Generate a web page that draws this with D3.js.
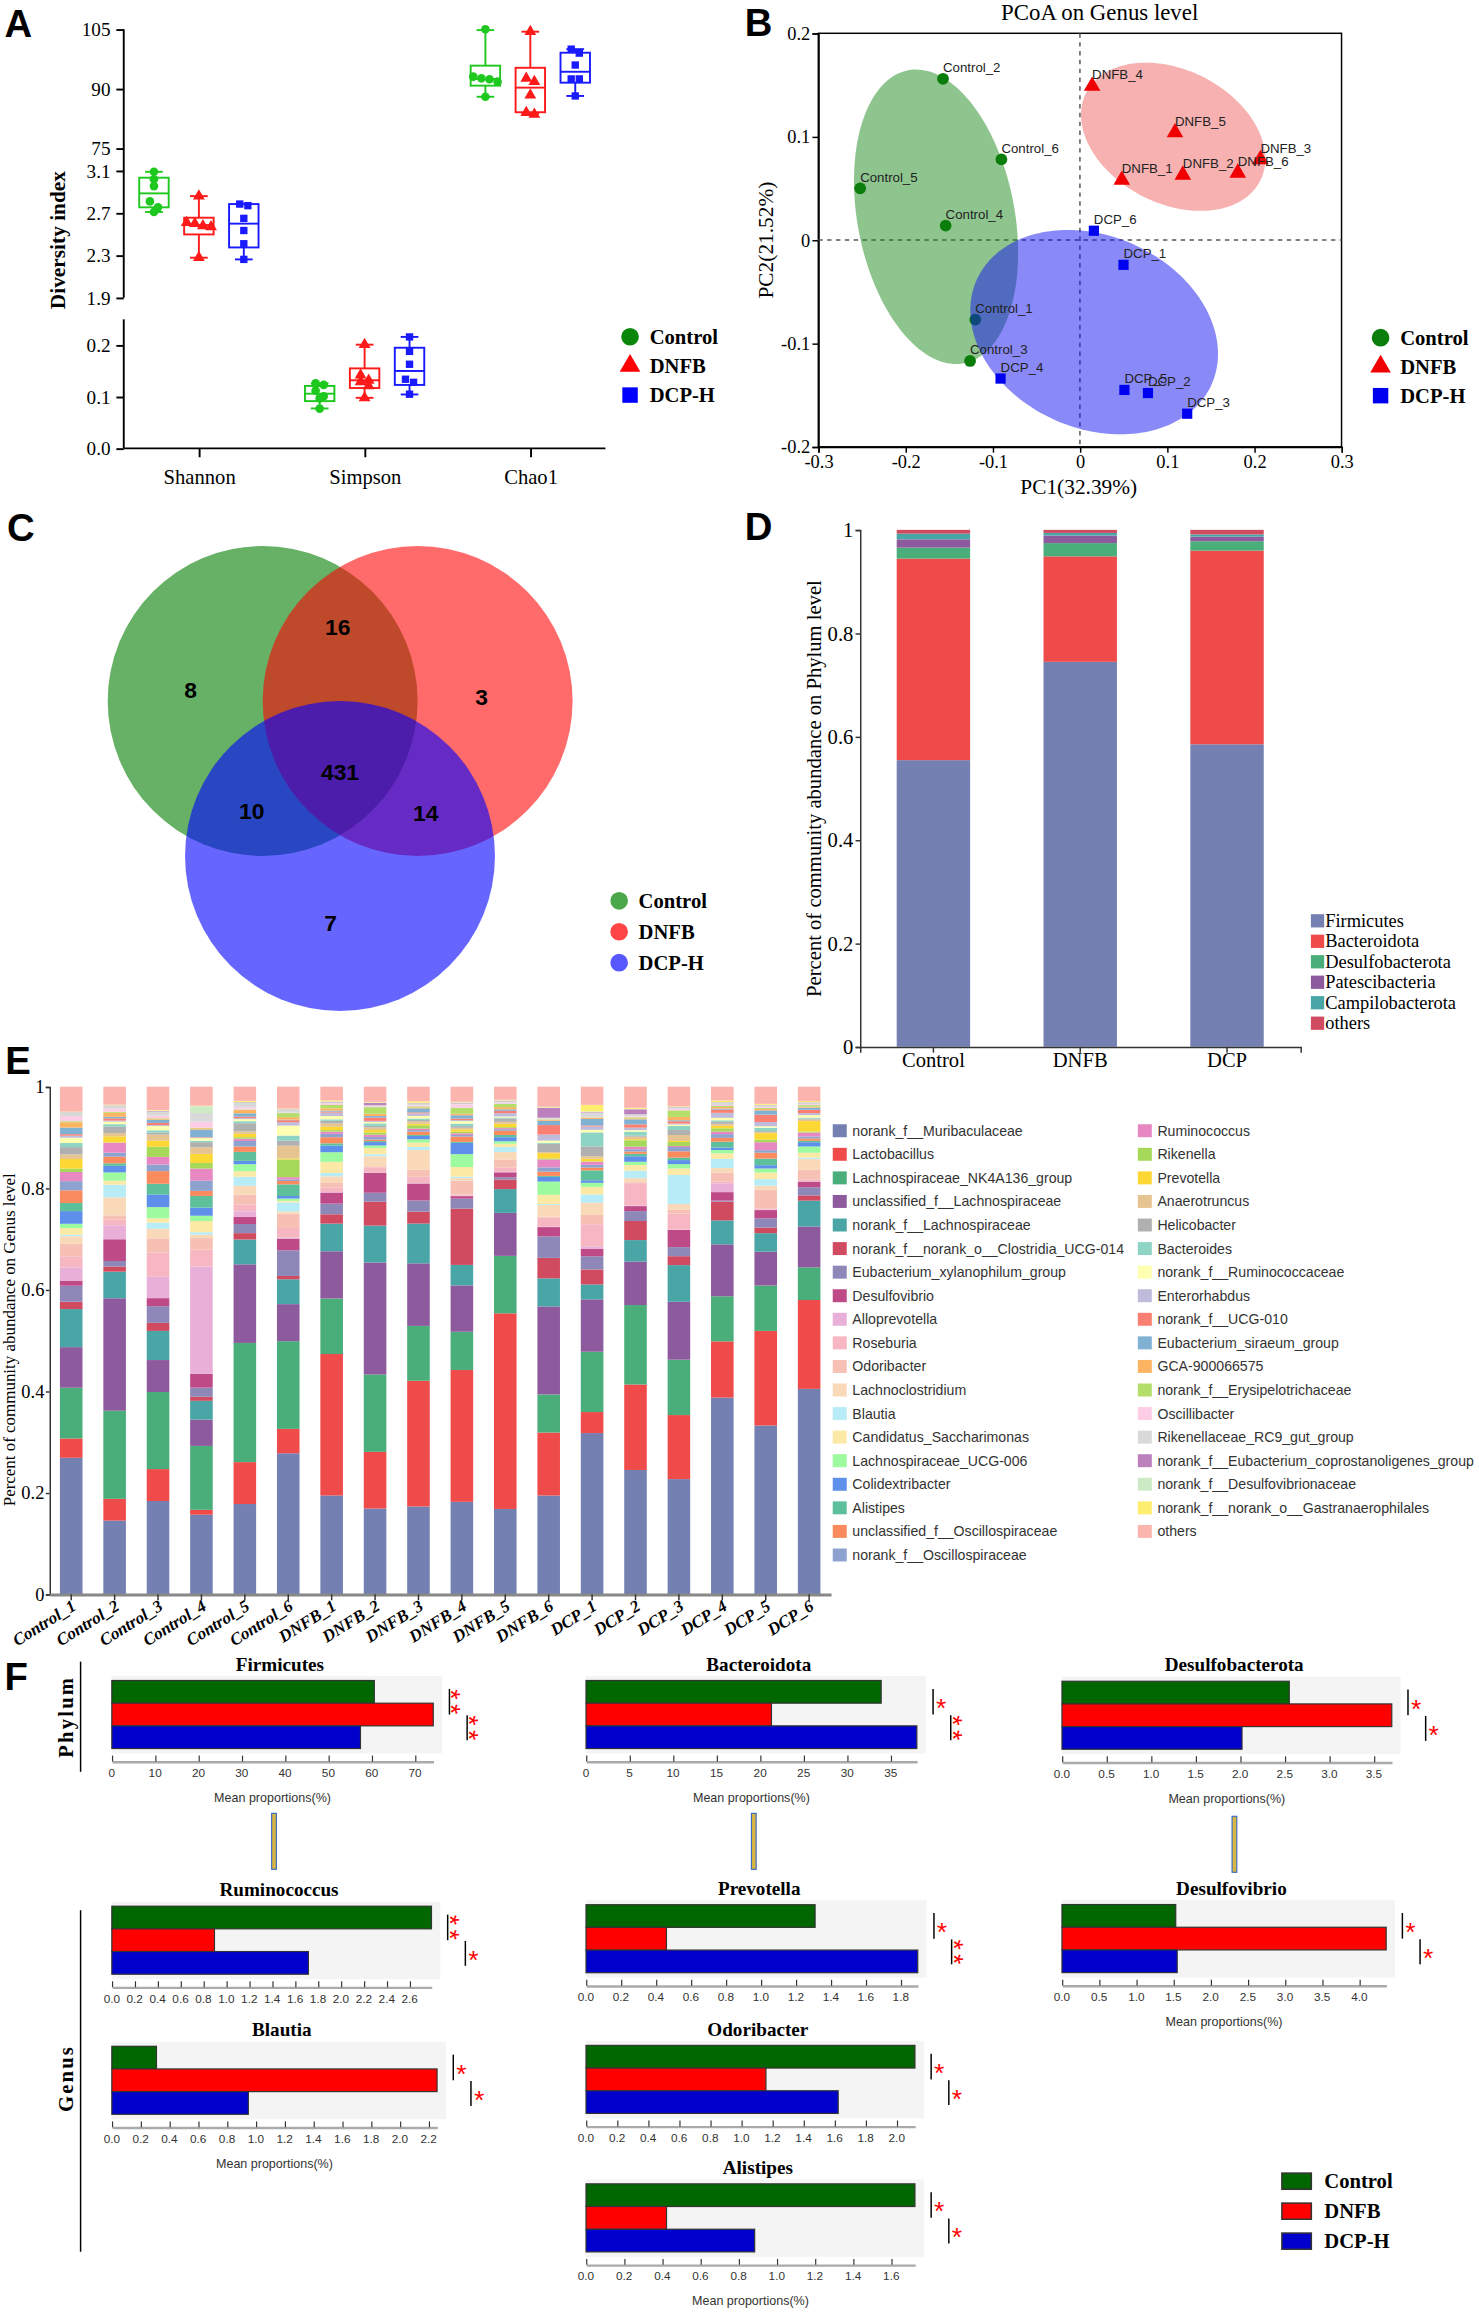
<!DOCTYPE html>
<html>
<head>
<meta charset="utf-8">
<script src="https://cdn.jsdelivr.net/npm/d3@7/dist/d3.min.js"></script>
<style>
  body { margin: 0; background: #fff; }
</style>
</head>
<body>
<div id="fig"></div>
<script>
// ---------------- data ----------------
const groups = ["Control", "DNFB", "DCP-H"];

// A: alpha diversity, [min, q1, median, q3, max] per group
const alphaMetrics = ["Shannon", "Simpson", "Chao1"];
const shannonBox = [[2.71, 2.754, 2.886, 3.034, 3.09], [2.278, 2.498, 2.587, 2.656, 2.86], [2.262, 2.375, 2.60, 2.785, 2.785]];
const shannonPts = [[3.09, 3.02, 2.955, 2.81, 2.754, 2.71], [2.86, 2.61, 2.60, 2.58, 2.57, 2.28], [2.785, 2.77, 2.65, 2.535, 2.41, 2.262]];
const simpsonBox = [[0.0774, 0.0916, 0.106, 0.121, 0.126], [0.098, 0.117, 0.132, 0.155, 0.201], [0.1045, 0.123, 0.150, 0.195, 0.216]];
const simpsonPts = [[0.126, 0.123, 0.112, 0.101, 0.097, 0.077], [0.201, 0.142, 0.132, 0.129, 0.121, 0.098], [0.216, 0.188, 0.163, 0.134, 0.128, 0.105]];
const chaoBox = [[88.0, 90.8, 92.48, 95.84, 104.8], [83.8, 84.1, 90.3, 95.3, 104.4], [88.2, 91.55, 94.3, 99.1, 100.0]];
const chaoPts = [[105, 93.07, 92.65, 92.4, 91.8, 88.0], [104.4, 92.65, 91.8, 88.4, 84.0, 83.6], [100, 99.0, 96.0, 92.5, 92.5, 88.2]];

// B: PCoA coordinates (PC1, PC2), samples _1.._6
const pcoaControl = [[-0.120, -0.077], [-0.157, 0.156], [-0.126, -0.117], [-0.154, 0.014], [-0.252, 0.050], [-0.090, 0.078]];
const pcoaDNFB = [[0.048, 0.058], [0.118, 0.063], [0.207, 0.078], [0.014, 0.149], [0.109, 0.104], [0.181, 0.065]];
const pcoaDCP = [[0.050, -0.024], [0.078, -0.148], [0.123, -0.168], [-0.091, -0.134], [0.051, -0.145], [0.016, 0.009]];
const pcoaPrefix = ["Control", "DNFB", "DCP"];
// ellipses: centre (x, y) and two conjugate semi-axis vectors (ux, uy, vx, vy), data units
const ellipseControl = [-0.165, 0.0225, 0.0320, -0.1417, -0.0885, -0.0144];
const ellipseDNFB = [0.1069, 0.0999, 0.1001, -0.0421, -0.0339, -0.0580];
const ellipseDCP = [0.0163, -0.0891, 0.1351, -0.0498, -0.0438, -0.0854];

// C: Venn counts
const vennLabels = ["Control only", "Control&DNFB", "DNFB only", "all", "Control&DCP", "DNFB&DCP", "DCP only"];
const vennCounts = [8, 16, 3, 431, 10, 14, 7];

// D: phylum composition
const phylumNames = ["Firmicutes", "Bacteroidota", "Desulfobacterota", "Patescibacteria", "Campilobacterota", "others"];
const phylumGroups = ["Control", "DNFB", "DCP"];
const phylumControl = [0.5545, 0.3899, 0.0212, 0.0161, 0.0110, 0.0073];
const phylumDNFB = [0.7447, 0.2041, 0.0256, 0.0146, 0.0051, 0.0059];
const phylumDCP = [0.5852, 0.3746, 0.0182, 0.0088, 0.0044, 0.0088];

// E: genus composition per sample
const genusNames = ["norank_f__Muribaculaceae", "Lactobacillus", "Lachnospiraceae_NK4A136_group", "unclassified_f__Lachnospiraceae",
  "norank_f__Lachnospiraceae", "norank_f__norank_o__Clostridia_UCG-014", "Eubacterium_xylanophilum_group", "Desulfovibrio",
  "Alloprevotella", "Roseburia", "Odoribacter", "Lachnoclostridium", "Blautia", "Candidatus_Saccharimonas",
  "Lachnospiraceae_UCG-006", "Colidextribacter", "Alistipes", "unclassified_f__Oscillospiraceae", "norank_f__Oscillospiraceae",
  "Ruminococcus", "Rikenella", "Prevotella", "Anaerotruncus", "Helicobacter", "Bacteroides", "norank_f__Ruminococcaceae",
  "Enterorhabdus", "norank_f__UCG-010", "Eubacterium_siraeum_group", "GCA-900066575", "norank_f__Erysipelotrichaceae",
  "Oscillibacter", "Rikenellaceae_RC9_gut_group", "norank_f__Eubacterium_coprostanoligenes_group",
  "norank_f__Desulfovibrionaceae", "norank_f__norank_o__Gastranaerophilales", "others"];
const samples = ["Control_1", "Control_2", "Control_3", "Control_4", "Control_5", "Control_6",
  "DNFB_1", "DNFB_2", "DNFB_3", "DNFB_4", "DNFB_5", "DNFB_6",
  "DCP_1", "DCP_2", "DCP_3", "DCP_4", "DCP_5", "DCP_6"];
const control1 = [0.269, 0.038, 0.100, 0.080, 0.075, 0.0145, 0.0315, 0.010, 0.026, 0.022, 0.025, 0.0145, 0.003, 0.013, 0.0085, 0.025, 0.016, 0.025, 0.018, 0.018, 0.0066, 0.019, 0.009, 0.0145, 0.008, 0.0105, 0.004, 0.003, 0.013, 0.0105, 0.002, 0.010, 0.006, 0.001, 0.001, 0.001, 0.049];
const control2 = [0.1455, 0.043, 0.174, 0.222, 0.0525, 0.010, 0.011, 0.043, 0.0276, 0.011, 0.0085, 0.0355, 0.025, 0.008, 0.0164, 0.013, 0.005, 0.013, 0.008, 0.0197, 0.0005, 0.012, 0.0065, 0.0125, 0.005, 0.005, 0.002, 0.0045, 0.003, 0.008, 0.002, 0.006, 0.005, 0.001, 0.001, 0.001, 0.0355];
const control3 = [0.184, 0.063, 0.152, 0.063, 0.0575, 0.0158, 0.033, 0.0158, 0.042, 0.048, 0.028, 0.019, 0.012, 0.0085, 0.022, 0.025, 0.021, 0.025, 0.013, 0.015, 0.020, 0.012, 0.012, 0.004, 0.0045, 0.0085, 0.002, 0.004, 0.0065, 0.002, 0.001, 0.005, 0.008, 0.001, 0.001, 0.001, 0.046];
const control4 = [0.157, 0.0097, 0.126, 0.052, 0.037, 0.008, 0.018, 0.027, 0.212, 0.033, 0.023, 0.0066, 0.005, 0.022, 0.0105, 0.016, 0.023, 0.010, 0.020, 0.024, 0.011, 0.018, 0.013, 0.010, 0.003, 0.005, 0.001, 0.001, 0.015, 0.0025, 0.001, 0.012, 0.015, 0.001, 0.0145, 0.001, 0.0375];
const control5 = [0.178, 0.0826, 0.235, 0.155, 0.049, 0.0125, 0.018, 0.0145, 0.0105, 0.013, 0.0197, 0.0177, 0.0177, 0.011, 0.0138, 0.0066, 0.0177, 0.0105, 0.011, 0.0045, 0.003, 0.0065, 0.005, 0.016, 0.004, 0.004, 0.002, 0.003, 0.0065, 0.0065, 0.001, 0.0045, 0.0085, 0.001, 0.001, 0.002, 0.028];
const control6 = [0.278, 0.048, 0.1728, 0.073, 0.049, 0.0066, 0.0505, 0.023, 0.002, 0.019, 0.028, 0.0045, 0.018, 0.003, 0.0045, 0.005, 0.023, 0.0066, 0.003, 0.0045, 0.035, 0.002, 0.025, 0.010, 0.010, 0.0197, 0.0066, 0.004, 0.001, 0.005, 0.008, 0.001, 0.005, 0.001, 0.001, 0.001, 0.043];
const dnfb1 = [0.1947, 0.2788, 0.1094, 0.093, 0.0545, 0.0184, 0.021, 0.0217, 0.001, 0.009, 0.009, 0.013, 0.0066, 0.022, 0.019, 0.013, 0.0045, 0.012, 0.0066, 0.0045, 0.003, 0.0066, 0.0066, 0.005, 0.003, 0.0066, 0.0066, 0.002, 0.002, 0.0045, 0.0066, 0.003, 0.002, 0.001, 0.001, 0.002, 0.027];
const dnfb2 = [0.1697, 0.1121, 0.153, 0.2216, 0.073, 0.0473, 0.0177, 0.0394, 0.001, 0.010, 0.002, 0.0197, 0.004, 0.0125, 0.005, 0.0066, 0.002, 0.003, 0.005, 0.0045, 0.0045, 0.005, 0.005, 0.003, 0.005, 0.003, 0.002, 0.0066, 0.003, 0.0045, 0.013, 0.002, 0.002, 0.0045, 0.001, 0.001, 0.030];
const dnfb3 = [0.1742, 0.2493, 0.1088, 0.1241, 0.0788, 0.0236, 0.0223, 0.0335, 0.001, 0.0125, 0.0138, 0.0394, 0.006, 0.0085, 0.0066, 0.0066, 0.002, 0.0066, 0.003, 0.003, 0.0066, 0.003, 0.0045, 0.003, 0.003, 0.005, 0.005, 0.002, 0.008, 0.002, 0.002, 0.002, 0.003, 0.001, 0.001, 0.003, 0.029];
const dnfb4 = [0.1833, 0.2614, 0.0758, 0.0919, 0.0406, 0.1117, 0.0197, 0.005, 0.001, 0.002, 0.0276, 0.005, 0.003, 0.019, 0.0256, 0.0223, 0.002, 0.0105, 0.0033, 0.0033, 0.003, 0.0045, 0.0033, 0.0033, 0.005, 0.005, 0.002, 0.003, 0.0066, 0.003, 0.012, 0.0066, 0.002, 0.001, 0.001, 0.001, 0.030];
const dnfb5 = [0.1697, 0.3889, 0.1143, 0.0854, 0.0473, 0.019, 0.0045, 0.0099, 0.001, 0.0085, 0.0158, 0.015, 0.0099, 0.0066, 0.005, 0.008, 0.0045, 0.0085, 0.003, 0.002, 0.002, 0.0066, 0.004, 0.0066, 0.002, 0.002, 0.0066, 0.0045, 0.003, 0.0045, 0.0066, 0.002, 0.003, 0.001, 0.001, 0.001, 0.026];
const dnfb6 = [0.1962, 0.125, 0.0758, 0.1747, 0.0558, 0.0407, 0.0427, 0.0184, 0.001, 0.0177, 0.002, 0.023, 0.002, 0.0184, 0.0263, 0.0092, 0.002, 0.0085, 0.0085, 0.0158, 0.002, 0.0105, 0.002, 0.0164, 0.002, 0.0045, 0.0118, 0.019, 0.0085, 0.002, 0.001, 0.001, 0.002, 0.0197, 0.001, 0.001, 0.040];
const dcp1 = [0.3197, 0.0417, 0.1196, 0.1038, 0.0296, 0.0296, 0.0263, 0.0145, 0.005, 0.044, 0.0184, 0.0243, 0.0164, 0.015, 0.008, 0.005, 0.0197, 0.0055, 0.0055, 0.006, 0.001, 0.005, 0.005, 0.0197, 0.0276, 0.005, 0.0066, 0.002, 0.013, 0.002, 0.001, 0.001, 0.009, 0.001, 0.001, 0.013, 0.036];
const dcp2 = [0.2477, 0.1703, 0.1583, 0.0867, 0.0427, 0.038, 0.0197, 0.010, 0.001, 0.0447, 0.002, 0.008, 0.015, 0.011, 0.0066, 0.011, 0.005, 0.0045, 0.0045, 0.005, 0.013, 0.002, 0.005, 0.002, 0.008, 0.003, 0.005, 0.0066, 0.010, 0.002, 0.002, 0.002, 0.004, 0.010, 0.001, 0.002, 0.042];
const dcp3 = [0.2288, 0.1272, 0.110, 0.1149, 0.0729, 0.0177, 0.018, 0.034, 0.001, 0.0315, 0.008, 0.011, 0.0578, 0.013, 0.0085, 0.008, 0.005, 0.0125, 0.0085, 0.002, 0.008, 0.002, 0.0118, 0.0099, 0.008, 0.003, 0.002, 0.0045, 0.002, 0.0066, 0.013, 0.003, 0.002, 0.001, 0.001, 0.001, 0.039];
const dcp4 = [0.393, 0.1123, 0.090, 0.1037, 0.048, 0.0374, 0.002, 0.017, 0.0177, 0.003, 0.0184, 0.009, 0.0184, 0.011, 0.0066, 0.005, 0.0118, 0.0075, 0.0075, 0.005, 0.0066, 0.005, 0.004, 0.004, 0.003, 0.005, 0.0099, 0.0066, 0.002, 0.003, 0.002, 0.002, 0.004, 0.001, 0.001, 0.003, 0.0276];
const dcp5 = [0.3348, 0.1877, 0.090, 0.067, 0.0368, 0.011, 0.0184, 0.0164, 0.001, 0.0026, 0.0368, 0.008, 0.013, 0.013, 0.008, 0.0066, 0.013, 0.0118, 0.005, 0.0158, 0.005, 0.013, 0.002, 0.002, 0.0066, 0.003, 0.0085, 0.0145, 0.0085, 0.003, 0.002, 0.002, 0.002, 0.001, 0.001, 0.002, 0.034];
const dcp6 = [0.4129, 0.1785, 0.0657, 0.0821, 0.0519, 0.0105, 0.0164, 0.0112, 0.001, 0.003, 0.0197, 0.0217, 0.003, 0.0099, 0.0125, 0.0085, 0.003, 0.0045, 0.004, 0.008, 0.002, 0.021, 0.003, 0.002, 0.002, 0.005, 0.004, 0.0066, 0.0045, 0.002, 0.003, 0.002, 0.002, 0.001, 0.001, 0.002, 0.029];
const genusSamples = [control1, control2, control3, control4, control5, control6, dnfb1, dnfb2, dnfb3, dnfb4, dnfb5, dnfb6, dcp1, dcp2, dcp3, dcp4, dcp5, dcp6];

// F: mean proportions (%) of differential taxa
const fTaxa = ["Firmicutes", "Bacteroidota", "Desulfobacterota", "Ruminococcus", "Prevotella", "Desulfovibrio", "Blautia", "Odoribacter", "Alistipes"];
const fControl = [60.6, 33.9, 2.55, 2.79, 1.31, 1.53, 0.31, 2.117, 1.724];
const fDNFB = [74.2, 21.3, 3.70, 0.896, 0.46, 4.36, 2.258, 1.158, 0.422];
const fDCP = [57.4, 38.0, 2.02, 1.716, 1.897, 1.55, 0.948, 1.623, 0.884];
const fSigControlDNFB = ["**", "*", "*", "**", "*", "*", "*", "*", "*"];
const fSigDNFBDCP = ["**", "**", "*", "*", "**", "*", "*", "*", "*"];
const fTickStep = [10, 5, 0.5, 0.2, 0.2, 0.5, 0.2, 0.2, 0.2];

// ---------------- styles ----------------
const SERIF = "'Liberation Serif','Times New Roman',serif";
const SANS = "'Liberation Sans',Arial,sans-serif";
const colA = ["#1ec81e", "#ff1a1a", "#1a1aff"];
const colLegend = ["#0a870a", "#ff0000", "#0000ff"];
const colB = ["#0b7d0b", "#f00000", "#0000f0"];
const ellFill = ["rgb(30,140,30)", "rgb(240,100,100)", "rgb(20,20,240)"];
const vennFill = ["rgb(0,125,0)", "rgb(255,0,0)", "rgb(0,0,255)"];
const vennOpacity = [0.6, 0.58, 0.6];
const vennLegendCol = ["#4aa74a", "#ff4545", "#5858ff"];
const phylumColors = ["#7480b2", "#f04b4b", "#4aae7a", "#8e5a9e", "#4aa6a6", "#d14b60"];
const genusColors = ["#7480b2", "#f04b4b", "#4aae7a", "#8e5a9e", "#4aa6a6", "#d14b60", "#8e88b8", "#bf4a88",
  "#e8b0d8", "#f6b6c2", "#f6c0b4", "#fad9b8", "#b8ecf6", "#fde9a6", "#9efa9e", "#5e8fea", "#5ec09a", "#fa8b5e",
  "#8ea2cf", "#e888c2", "#a6d85a", "#fdd835", "#e5c492", "#b0b0b0", "#8ed4c4", "#ffffb2", "#bfbbdb", "#f97f72",
  "#80b1d3", "#fdb462", "#b3de69", "#fccde5", "#d9d9d9", "#bc80bd", "#ccebc5", "#ffed6f", "#fbb4ae"];
const colF = ["#006600", "#ff0000", "#0000cc"];

const W = 1004, H = 1569.5;
const svg = d3.select("#fig").append("svg")
  .attr("width", 1479).attr("height", 2312)
  .attr("viewBox", `0 0 ${W} ${H}`);
svg.append("rect").attr("width", W).attr("height", H).attr("fill", "#fff");

function txt(g, s, x, y, o = {}) {
  const t = g.append("text").attr("x", x).attr("y", y).text(s)
    .attr("font-family", o.font || SERIF).attr("font-size", o.size || 12)
    .attr("fill", o.fill || "#000");
  if (o.weight) t.attr("font-weight", o.weight);
  if (o.anchor) t.attr("text-anchor", o.anchor);
  if (o.style) t.attr("font-style", o.style);
  if (o.ls) t.attr("letter-spacing", o.ls);
  if (o.rotate) t.attr("transform", `rotate(${o.rotate},${x},${y})`);
  return t;
}
function styleAxis(ax, font, size, color, sw) {
  ax.attr("font-family", font).attr("font-size", size);
  ax.selectAll("text").attr("fill", color);
  ax.selectAll("line,path").attr("stroke", color).attr("stroke-width", sw);
}
const symbolTypes = [d3.symbolCircle, d3.symbolTriangle, d3.symbolSquare];

// panel letters
[["A", 3, 24.9], ["B", 505.6, 24.4], ["C", 4.8, 367.3], ["D", 505.6, 366.6], ["E", 3.6, 729.3], ["F", 3, 1147.3]]
  .forEach(([s, x, y]) => txt(svg, s, x, y, { font: SANS, size: 26, weight: "bold" }));

// ---------------- A ----------------
const gA = svg.append("g");
const axA = 84;
const yA = {
  Chao1: d3.scaleLinear().domain([75, 105]).range([100.7, 19.9]),
  Shannon: d3.scaleLinear().domain([1.9, 3.1]).range([202.1, 115.9]),
  Simpson: d3.scaleLinear().domain([0, 0.25]).range([304.4, 216.8])
};
const ticksA = { Chao1: [75, 90, 105], Shannon: [1.9, 2.3, 2.7, 3.1], Simpson: [0, 0.1, 0.2] };
const fmtA = { Chao1: d3.format("d"), Shannon: d3.format(".1f"), Simpson: d3.format(".1f") };
alphaMetrics.forEach(m => {
  const ax = gA.append("g").attr("transform", `translate(${axA},0)`)
    .call(d3.axisLeft(yA[m]).tickValues(ticksA[m]).tickFormat(fmtA[m]).tickSize(5).tickPadding(4));
  ax.select(".domain").remove();
  styleAxis(ax, SERIF, 13, "#000", 1.3);
});
gA.append("line").attr("x1", axA).attr("x2", axA).attr("y1", yA.Chao1.range()[1]).attr("y2", yA.Shannon.range()[0])
  .attr("stroke", "#000").attr("stroke-width", 1.3);
gA.append("line").attr("x1", axA).attr("x2", axA).attr("y1", yA.Simpson.range()[1]).attr("y2", yA.Simpson.range()[0])
  .attr("stroke", "#000").attr("stroke-width", 1.3);

const xA = d3.scalePoint().domain(alphaMetrics).range([135, 360]);
const xAg = d3.scalePoint().domain(groups).range([-30.5, 30.5]);
const axXA = gA.append("g").attr("transform", "translate(0,304.4)")
  .call(d3.axisBottom(xA).tickSize(6).tickPadding(8));
axXA.select(".domain").remove();
styleAxis(axXA, SERIF, 14, "#000", 1.3);
gA.append("line").attr("x1", axA).attr("x2", 411).attr("y1", 304.4).attr("y2", 304.4)
  .attr("stroke", "#000").attr("stroke-width", 1.3);
txt(gA, "Diversity index", 44, 163, { size: 14.5, weight: "bold", anchor: "middle", rotate: -90 });

function swarm(vals, scale, d, s) {
  const items = vals.map(v => ({ v, y: scale(v) })).sort((a, b) => a.y - b.y);
  const rows = [];
  items.forEach(it => {
    const r = rows[rows.length - 1];
    if (r && it.y - r[0].y < d) r.push(it); else rows.push([it]);
  });
  rows.forEach(r => r.forEach((it, i) => { it.dx = (i - (r.length - 1) / 2) * s; }));
  return items;
}
const boxData = { Shannon: shannonBox, Simpson: simpsonBox, Chao1: chaoBox };
const ptsData = { Shannon: shannonPts, Simpson: simpsonPts, Chao1: chaoPts };
alphaMetrics.forEach(m => groups.forEach((g, gi) => {
  const cx = xA(m) + xAg(g), y = yA[m], col = colA[gi];
  const [mn, q1, md, q3, mx] = boxData[m][gi];
  const gb = gA.append("g").attr("stroke", col).attr("stroke-width", 1.3).attr("fill", "none");
  gb.append("rect").attr("x", cx - 10).attr("width", 20).attr("y", y(q3)).attr("height", y(q1) - y(q3));
  gb.append("line").attr("x1", cx - 10).attr("x2", cx + 10).attr("y1", y(md)).attr("y2", y(md));
  gb.append("line").attr("x1", cx).attr("x2", cx).attr("y1", y(mx)).attr("y2", y(q3));
  gb.append("line").attr("x1", cx).attr("x2", cx).attr("y1", y(q1)).attr("y2", y(mn));
  [mn, mx].forEach(v => gb.append("line").attr("x1", cx - 6).attr("x2", cx + 6).attr("y1", y(v)).attr("y2", y(v)));
  const sym = d3.symbol().type(symbolTypes[gi]).size([27, 28, 25][gi]);
  gA.selectAll(null).data(swarm(ptsData[m][gi], y, 4.2, 5.5)).join("path")
    .attr("d", sym).attr("fill", col)
    .attr("transform", d => `translate(${cx + d.dx},${d.y})`);
}));
groups.forEach((g, i) => {
  const y = 228.6 + i * 19.8;
  gA.append("path").attr("d", d3.symbol().type(symbolTypes[i]).size([113, 85, 110][i]))
    .attr("transform", `translate(427.7,${y})`).attr("fill", colLegend[i]);
  txt(gA, g, 441, y + 4.8, { size: 14, weight: "bold" });
});

// ---------------- B ----------------
const gB = svg.append("g");
const xB = d3.scaleLinear().domain([-0.3, 0.3]).range([555.5, 910.7]);
const yB = d3.scaleLinear().domain([-0.2, 0.2]).range([303.3, 22.6]);
const fmtB = d => Math.abs(d) < 1e-9 ? "0" : d.toFixed(1);
const axBx = gB.append("g").attr("transform", "translate(0,303.3)")
  .call(d3.axisBottom(xB).tickValues([-0.3, -0.2, -0.1, 0, 0.1, 0.2, 0.3]).tickFormat(fmtB).tickSize(4).tickPadding(1.5));
styleAxis(axBx, SERIF, 12.5, "#000", 1);
const axBy = gB.append("g").attr("transform", "translate(555.5,0)")
  .call(d3.axisLeft(yB).tickValues([-0.2, -0.1, 0, 0.1, 0.2]).tickFormat(fmtB).tickSize(4).tickPadding(1.5));
styleAxis(axBy, SERIF, 12.5, "#000", 1);
gB.append("rect").attr("x", 555.5).attr("y", 22.6).attr("width", 910.7 - 555.5).attr("height", 303.3 - 22.6)
  .attr("fill", "none").attr("stroke", "#000").attr("stroke-width", 1);
gB.append("line").attr("x1", xB(0)).attr("x2", xB(0)).attr("y1", 22.6).attr("y2", 303.3)
  .attr("stroke", "#555").attr("stroke-dasharray", "3,3");
gB.append("line").attr("x1", 555.5).attr("x2", 910.7).attr("y1", yB(0)).attr("y2", yB(0))
  .attr("stroke", "#555").attr("stroke-dasharray", "3,3");
const ellipses = [ellipseControl, ellipseDNFB, ellipseDCP];
const pcoa = [pcoaControl, pcoaDNFB, pcoaDCP];
const ellLine = d3.line().curve(d3.curveLinearClosed);
ellipses.forEach((e, gi) => {
  const [cx, cy, ux, uy, vx, vy] = e;
  const pts = d3.range(0, 2 * Math.PI, Math.PI / 90).map(t =>
    [xB(cx + ux * Math.cos(t) + vx * Math.sin(t)), yB(cy + uy * Math.cos(t) + vy * Math.sin(t))]);
  gB.append("path").attr("d", ellLine(pts)).attr("fill", ellFill[gi]).attr("fill-opacity", 0.5);
  const sym = d3.symbol().type(symbolTypes[gi]).size([50, 55, 48][gi]);
  pcoa[gi].forEach(p => {
    gB.append("path").attr("d", sym).attr("fill", colB[gi])
      .attr("transform", `translate(${xB(p[0])},${yB(p[1])})`);
  });
});
pcoa.forEach((arr, gi) => arr.forEach((p, k) => {
  txt(gB, `${pcoaPrefix[gi]}_${k + 1}`, xB(p[0]), yB(p[1]) - 4.5, { font: SANS, size: 9, fill: "#222" });
}));
txt(gB, "PCoA on Genus level", 746.5, 13.5, { size: 15.5, anchor: "middle" });
txt(gB, "PC1(32.39%)", 732.3, 335.5, { size: 14.5, anchor: "middle" });
txt(gB, "PC2(21.52%)", 525, 163, { size: 14.5, anchor: "middle", rotate: -90 });
groups.forEach((g, i) => {
  const y = 229.2 + i * 19.7;
  gB.append("path").attr("d", d3.symbol().type(symbolTypes[i]).size([113, 85, 110][i]))
    .attr("transform", `translate(937.2,${y})`).attr("fill", colB[i]);
  txt(gB, g, 950.5, y + 4.8, { size: 14, weight: "bold" });
});

// ---------------- C ----------------
const gC = svg.append("g");
const vennR = 105.2;
const vennCentres = [[178.3, 475.9], [283.5, 475.9], [230.8, 581.1]];
vennCentres.forEach((c, i) => gC.append("circle").attr("cx", c[0]).attr("cy", c[1]).attr("r", vennR)
  .attr("fill", vennFill[i]).attr("fill-opacity", vennOpacity[i]));
// label anchor points for each region
const vennLabelPos = [[129.4, 468.4], [229.3, 425.4], [327, 473], [230.8, 524.2], [170.9, 550.5], [289, 551.6], [224.5, 626.2]];
vennCounts.forEach((n, i) => txt(gC, n, vennLabelPos[i][0], vennLabelPos[i][1] + 5.5,
  { font: SANS, size: 15.5, weight: "bold", anchor: "middle" }));
groups.forEach((g, i) => {
  const y = 611.5 + i * 21;
  gC.append("circle").attr("cx", 420.3).attr("cy", y).attr("r", 6).attr("fill", vennLegendCol[i]);
  txt(gC, g, 433.5, y + 4.8, { size: 14, weight: "bold" });
});

// ---------------- D ----------------
const gD = svg.append("g");
const xD = d3.scaleBand().domain(phylumGroups).range([583.8, 882.8]).paddingInner(0.5).paddingOuter(0.25);
const yD = d3.scaleLinear().domain([0, 1]).range([710.6, 359.7]);
const phylumTable = [phylumControl, phylumDNFB, phylumDCP];
const phylumRows = phylumGroups.map((g, i) => {
  const o = { group: g };
  phylumNames.forEach((n, j) => { o[n] = phylumTable[i][j]; });
  return o;
});
const stackD = d3.stack().keys(phylumNames)(phylumRows);
stackD.forEach((layer, j) => {
  gD.selectAll(null).data(layer).join("rect")
    .attr("x", d => xD(d.data.group)).attr("width", xD.bandwidth())
    .attr("y", d => yD(d[1])).attr("height", d => yD(d[0]) - yD(d[1]))
    .attr("fill", phylumColors[j]);
});
const axDy = gD.append("g").attr("transform", "translate(583.8,0)")
  .call(d3.axisLeft(yD).tickValues([0, 0.2, 0.4, 0.6, 0.8, 1]).tickFormat(d => d === 0 || d === 1 ? d : d.toFixed(1)).tickSize(3).tickPadding(1.5));
styleAxis(axDy, SERIF, 14, "#333", 1);
const axDx = gD.append("g").attr("transform", "translate(0,710.6)")
  .call(d3.axisBottom(xD).tickSize(4).tickPadding(0));
styleAxis(axDx, SERIF, 14, "#333", 1);
axDx.selectAll("text").attr("fill", "#000");
axDy.selectAll("text").attr("fill", "#000");
txt(gD, "Percent of community abundance on Phylum level", 557, 535.3, { size: 14, anchor: "middle", rotate: -90 });
phylumNames.forEach((n, j) => {
  const y = 625.1 + j * 13.9;
  gD.append("rect").attr("x", 889.9).attr("y", y - 4.5).attr("width", 9).attr("height", 9).attr("fill", phylumColors[j]);
  txt(gD, n, 899.6, y + 4.2, { size: 12.5 });
});

// ---------------- E ----------------
const gE = svg.append("g");
const xE = d3.scaleBand().domain(samples).range([33.6, 564]).paddingInner(0.48).paddingOuter(0.24);
const yE = d3.scaleLinear().domain([0, 1]).range([1082.3, 737.7]);
const genusRows = samples.map((s, i) => {
  const vals = genusSamples[i], tot = d3.sum(vals);
  const o = { sample: s };
  genusNames.forEach((n, j) => { o[n] = vals[j] / tot; });
  return o;
});
const stackE = d3.stack().keys(genusNames)(genusRows);
stackE.forEach((layer, j) => {
  gE.selectAll(null).data(layer).join("rect")
    .attr("x", d => xE(d.data.sample)).attr("width", xE.bandwidth())
    .attr("y", d => yE(d[1])).attr("height", d => Math.max(0, yE(d[0]) - yE(d[1])))
    .attr("fill", genusColors[j]);
});
const axEy = gE.append("g").attr("transform", "translate(33.6,0)")
  .call(d3.axisLeft(yE).tickValues([0, 0.2, 0.4, 0.6, 0.8, 1]).tickFormat(d => d === 0 || d === 1 ? d : d.toFixed(1)).tickSize(2.5).tickPadding(1));
styleAxis(axEy, SERIF, 12.5, "#333", 1);
axEy.selectAll("text").attr("fill", "#000");
const axEx = gE.append("g").attr("transform", "translate(0,1082.3)")
  .call(d3.axisBottom(xE).tickSize(4).tickSizeOuter(0));
styleAxis(axEx, SERIF, 11.5, "#333", 1);
axEx.select(".domain").attr("stroke", "#888").attr("stroke-width", 2);
axEx.selectAll("text").attr("fill", "#000").attr("font-weight", "bold").attr("font-style", "italic")
  .attr("text-anchor", "end").attr("dy", null).attr("x", 4).attr("y", 10)
  .attr("transform", "rotate(-32,4,10)");
txt(gE, "Percent of community abundance on Genus level", 10.5, 909.5, { size: 11.5, anchor: "middle", rotate: -90 });
genusNames.forEach((n, j) => {
  const col = j < 19 ? 0 : 1, row = j < 19 ? j : j - 19;
  const x = col === 0 ? 565.3 : 772.4, y = 767.6 + row * 16;
  gE.append("rect").attr("x", x).attr("y", y - 4.4).attr("width", 9.5).attr("height", 8.8).attr("fill", genusColors[j]);
  txt(gE, n, x + 13.3, y + 3.4, { font: SANS, size: 9.6, fill: "#333" });
});

// ---------------- F ----------------
const gF = svg.append("g");
// x0, top, axis length, show axis title
const fLayout = [
  [75.9, 1137.8, 218.2, true], [397.8, 1137.8, 224.6, true], [720.9, 1138.3, 223.9, true],
  [75.9, 1291, 217, false], [397.8, 1290, 225.2, false], [720.9, 1289.9, 220.1, true],
  [75.9, 1386.1, 220.8, true], [397.8, 1385.5, 223.3, false], [397.8, 1479.5, 223.3, true]
];
const AST = 18;
fTaxa.forEach((taxon, i) => {
  const [x0, top, len, showLab] = fLayout[i];
  const vals = [fControl[i], fDNFB[i], fDCP[i]];
  const x = d3.scaleLinear().domain([0, d3.max(vals)]).range([x0, x0 + len]);
  const y = d3.scaleBand().domain(groups).range([top + 3, top + 49.2]);
  const bw = y.bandwidth();
  const g = gF.append("g");
  g.append("rect").attr("x", x0).attr("y", top).attr("width", len + 6).attr("height", 52.5).attr("fill", "#f4f4f4");
  g.selectAll(null).data(vals).join("rect")
    .attr("x", x0).attr("y", (d, k) => y(groups[k])).attr("width", d => x(d) - x0).attr("height", bw)
    .attr("fill", (d, k) => colF[k]).attr("stroke", "#333").attr("stroke-width", 0.8);
  const ticks = d3.range(0, d3.max(vals) + 1e-9, fTickStep[i]);
  const fmt = fTickStep[i] >= 5 ? d3.format("d") : d3.format(".1f");
  const ax = g.append("g").attr("transform", `translate(0,${top + 58})`)
    .call(d3.axisTop(x).tickValues(ticks).tickSize(4).tickSizeOuter(0).tickFormat(() => ""));
  ax.select(".domain").attr("stroke", "#aaa").attr("stroke-width", 1.6);
  ax.selectAll(".tick line").attr("stroke", "#333").attr("stroke-width", 0.8);
  ticks.forEach(t => txt(g, fmt(t), x(t), top + 68.5, { font: SANS, size: 8, anchor: "middle", fill: "#333" }));
  txt(g, taxon, x0 + (len + 6) / 2 + 2, top - 3.7, { size: 13, weight: "bold", anchor: "middle" });
  if (showLab) txt(g, "Mean proportions(%)", x0 + len / 2, top + 85.5, { font: SANS, size: 8.5, anchor: "middle", fill: "#333" });
  const cG = y(groups[0]) + bw / 2, cR = y(groups[1]) + bw / 2, cB = y(groups[2]) + bw / 2;
  const xl1 = x0 + len + 11, xl2 = x0 + len + 23;
  [[xl1, cG - 2, cR, fSigControlDNFB[i]], [xl2, cR + 0.5, cB + 2, fSigDNFBDCP[i]]].forEach(([lx, y1, y2, sig]) => {
    g.append("line").attr("x1", lx).attr("x2", lx).attr("y1", y1).attr("y2", y2).attr("stroke", "#000").attr("stroke-width", 1);
    const mid = (y1 + y2) / 2;
    if (sig.length === 1) {
      txt(g, sig, lx + 5.5, mid + 0.573 * AST, { font: SANS, size: AST, anchor: "middle", fill: "#ff0000" });
    } else {
      // stacked marks: the label is set vertically
      const bx = lx + 5.5 - 0.573 * AST;
      txt(g, sig, bx, mid + 1.5, { font: SANS, size: AST, anchor: "middle", fill: "#ff0000", ls: 3, rotate: 90 });
    }
  });
});
// connectors between phylum and genus rows
[186, 511.7, 838].forEach((cx, i) => gF.append("rect").attr("x", cx - 1.6).attr("y", i === 2 ? 1233 : 1231)
  .attr("width", 3.2).attr("height", 38).attr("fill", "#d8b640").attr("stroke", "#3d6bc4").attr("stroke-width", 0.8));
gF.append("line").attr("x1", 54.7).attr("x2", 54.7).attr("y1", 1128).attr("y2", 1202.8).attr("stroke", "#000");
gF.append("line").attr("x1", 54.7).attr("x2", 54.7).attr("y1", 1296.7).attr("y2", 1528.6).attr("stroke", "#000");
txt(gF, "Phylum", 49.5, 1165.4, { size: 14, weight: "bold", anchor: "middle", rotate: -90, ls: 1.5 });
txt(gF, "Genus", 49.5, 1411, { size: 14, weight: "bold", anchor: "middle", rotate: -90, ls: 1.5 });
groups.forEach((g, i) => {
  const y = 1480.7 + i * 20.35;
  gF.append("rect").attr("x", 870.2).attr("y", y - 5.5).attr("width", 20).attr("height", 11)
    .attr("fill", colF[i]).attr("stroke", "#333").attr("stroke-width", 1);
  txt(gF, g, 899, y + 4.8, { size: 14, weight: "bold" });
});
</script>
</body>
</html>
